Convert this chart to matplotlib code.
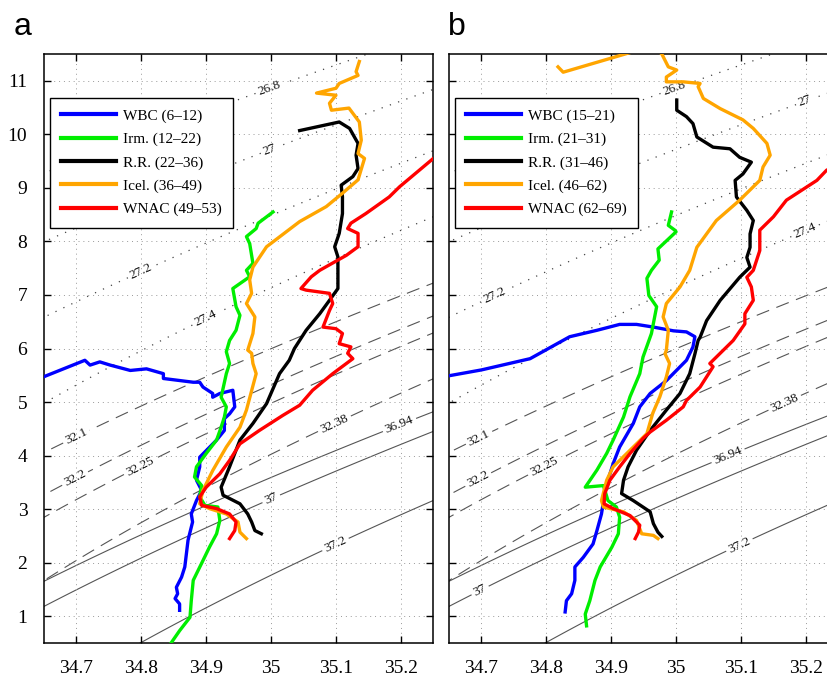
import numpy as np
import matplotlib
matplotlib.use('Agg')
import matplotlib.pyplot as plt
from matplotlib import ticker

# ── Data: T-S traces (salinity, potential temperature) ───────────
# panel a
a_wbc_s = [34.645, 34.713, 34.721, 34.736, 34.752, 34.783, 34.808, 34.834, 34.834, 34.88, 34.89, 34.895,
           34.91, 34.91, 34.921, 34.931, 34.941, 34.944, 34.936, 34.928, 34.928, 34.916, 34.89, 34.89,
           34.885, 34.893, 34.885, 34.877, 34.879, 34.872, 34.867, 34.862, 34.854, 34.856, 34.852,
           34.859, 34.859]
a_wbc_t = [5.45, 5.78, 5.69, 5.75, 5.69, 5.59, 5.62, 5.53, 5.44, 5.37, 5.37, 5.28, 5.16, 5.09, 5.16,
           5.19, 5.22, 4.91, 4.78, 4.69, 4.47, 4.29, 3.97, 3.79, 3.54, 3.35, 3.16, 2.91, 2.76, 2.42,
           1.92, 1.73, 1.54, 1.42, 1.33, 1.23, 1.11]
a_irm_s = [35.003, 34.98, 34.977, 34.962, 34.967, 34.972, 34.962, 34.967, 34.941, 34.946, 34.952,
           34.946, 34.936, 34.931, 34.936, 34.931, 34.923, 34.931, 34.928, 34.923, 34.916, 34.90,
           34.885, 34.882, 34.893, 34.89, 34.898, 34.918, 34.921, 34.916, 34.905, 34.895, 34.88,
           34.877, 34.875, 34.859, 34.843]
a_irm_t = [8.55, 8.34, 8.24, 8.09, 7.96, 7.59, 7.46, 7.34, 7.12, 6.78, 6.62, 6.34, 6.15, 5.94, 5.72,
           5.53, 5.09, 4.91, 4.72, 4.53, 4.29, 4.04, 3.79, 3.60, 3.44, 3.23, 3.07, 3.04, 2.79, 2.54,
           2.29, 2.04, 1.67, 1.29, 0.98, 0.73, 0.45]
a_rr_s = [35.044, 35.105, 35.121, 35.134, 35.131, 35.134, 35.126, 35.108, 35.11, 35.11, 35.105,
          35.098, 35.103, 35.103, 35.103, 35.09, 35.075, 35.054, 35.036, 35.028, 35.013, 34.993,
          34.972, 34.952, 34.936, 34.923, 34.926, 34.952, 34.964, 34.97, 34.975, 34.985]
a_rr_t = [10.07, 10.23, 10.11, 9.83, 9.61, 9.36, 9.21, 9.05, 8.83, 8.52, 8.15, 7.90, 7.71, 7.40, 7.12,
          6.90, 6.65, 6.34, 6.0, 5.78, 5.53, 4.97, 4.60, 4.29, 3.79, 3.41, 3.26, 3.10, 2.91, 2.76,
          2.60, 2.54]
a_icel_s = [35.136, 35.131, 35.134, 35.105, 35.10, 35.07, 35.10, 35.09, 35.093, 35.12, 35.136, 35.139,
            35.134, 35.144, 35.134, 35.11, 35.085, 35.044, 34.993, 34.972, 34.967, 34.970, 34.962,
            34.975, 34.972, 34.964, 34.970, 34.972, 34.977, 34.962, 34.952, 34.931, 34.91, 34.895,
            34.89, 34.905, 34.931, 34.949, 34.952, 34.962]
a_icel_t = [11.36, 11.17, 11.10, 10.95, 10.86, 10.77, 10.73, 10.58, 10.45, 10.49, 10.23, 9.89, 9.64,
            9.55, 9.15, 8.90, 8.65, 8.37, 7.90, 7.52, 7.28, 7.03, 6.84, 6.59, 6.28, 5.97, 5.91, 5.72,
            5.53, 4.85, 4.53, 4.16, 3.72, 3.35, 3.10, 3.01, 2.91, 2.76, 2.57, 2.45]
a_wnac_s = [35.255, 35.198, 35.182, 35.146, 35.123, 35.118, 35.134, 35.134, 35.116, 35.075, 35.062,
            35.046, 35.054, 35.09, 35.095, 35.09, 35.08, 35.10, 35.11, 35.105, 35.123, 35.118, 35.126,
            35.095, 35.064, 35.044, 35.018, 34.982, 34.952, 34.936, 34.921, 34.90, 34.89, 34.893,
            34.916, 34.936, 34.946, 34.944, 34.936]
a_wnac_t = [9.6, 9.02, 8.83, 8.52, 8.34, 8.24, 8.15, 7.90, 7.74, 7.46, 7.34, 7.12, 7.09, 7.03, 6.84,
            6.71, 6.40, 6.37, 6.28, 6.09, 6.03, 5.91, 5.81, 5.53, 5.22, 4.94, 4.75, 4.47, 4.22, 3.91,
            3.66, 3.41, 3.23, 3.07, 3.01, 2.91, 2.76, 2.60, 2.45]

# panel b
b_wbc_s = [34.645, 34.70, 34.775, 34.836, 34.878, 34.913, 34.939, 34.965, 34.996, 35.016, 35.029,
           35.026, 35.016, 34.985, 34.96, 34.944, 34.934, 34.913, 34.903, 34.895, 34.89, 34.885,
           34.878, 34.872, 34.857, 34.844, 34.844, 34.839, 34.831, 34.829]
b_wbc_t = [5.48, 5.6, 5.81, 6.22, 6.34, 6.45, 6.45, 6.40, 6.33, 6.31, 6.22, 6.03, 5.78, 5.40, 5.16,
           4.91, 4.60, 4.16, 3.85, 3.54, 3.29, 2.91, 2.60, 2.35, 2.10, 1.92, 1.67, 1.42, 1.29, 1.08]
b_irm_s = [34.993, 34.988, 34.998, 35.0, 34.972, 34.974, 34.962, 34.955, 34.958, 34.97, 34.962,
           34.949, 34.944, 34.929, 34.919, 34.903, 34.893, 34.878, 34.86, 34.888, 34.895, 34.908,
           34.913, 34.911, 34.901, 34.883, 34.875, 34.867, 34.86, 34.862]
b_irm_t = [8.55, 8.30, 8.21, 8.18, 7.86, 7.65, 7.46, 7.31, 6.99, 6.78, 6.28, 5.84, 5.53, 5.10, 4.72,
           4.29, 4.04, 3.73, 3.41, 3.44, 3.16, 3.04, 2.85, 2.54, 2.29, 1.92, 1.67, 1.29, 1.04, 0.82]
b_rr_s = [35.001, 35.001, 35.016, 35.026, 35.032, 35.057, 35.083, 35.098, 35.116, 35.103, 35.091,
          35.093, 35.109, 35.119, 35.114, 35.114, 35.109, 35.114, 35.098, 35.068, 35.047, 35.037,
          35.034, 35.029, 35.021, 35.006, 34.985, 34.96, 34.939, 34.926, 34.919, 34.916, 34.934,
          34.96, 34.965, 34.972, 34.978]
b_rr_t = [10.64, 10.45, 10.33, 10.20, 9.95, 9.76, 9.73, 9.57, 9.48, 9.26, 9.14, 8.83, 8.58, 8.39,
          8.14, 7.89, 7.70, 7.52, 7.33, 6.90, 6.52, 6.21, 6.15, 5.90, 5.53, 5.16, 4.85, 4.47, 4.10,
          3.79, 3.54, 3.29, 3.16, 2.95, 2.73, 2.57, 2.49]
b_icel_s = [34.818, 34.826, 34.93, 34.96, 34.978, 34.988, 35.001, 34.985, 34.985, 35.011, 35.037,
            35.034, 35.042, 35.068, 35.103, 35.119, 35.14, 35.145, 35.134, 35.129, 35.098, 35.062,
            35.047, 35.032, 35.021, 35.006, 34.985, 34.98, 34.988, 34.985, 34.983, 34.99, 34.985,
            34.975, 34.964, 34.955, 34.924, 34.903, 34.893, 34.885, 34.888, 34.919, 34.939, 34.947,
            34.965, 34.972]
b_icel_t = [11.26, 11.16, 11.53, 11.7, 11.5, 11.26, 11.20, 11.07, 10.98, 10.98, 10.95, 10.89, 10.67,
            10.48, 10.27, 10.11, 9.83, 9.61, 9.39, 9.14, 8.77, 8.39, 8.14, 7.89, 7.46, 7.15, 6.84,
            6.59, 6.34, 5.97, 5.90, 5.72, 5.47, 5.10, 4.79, 4.41, 4.04, 3.79, 3.54, 3.16, 3.04, 2.95,
            2.79, 2.54, 2.51, 2.45]
b_wnac_s = [35.26, 35.232, 35.217, 35.17, 35.15, 35.129, 35.129, 35.129, 35.119, 35.109, 35.116,
            35.119, 35.106, 35.106, 35.088, 35.057, 35.052, 35.057, 35.047, 35.037, 35.016, 35.011,
            34.985, 34.96, 34.949, 34.929, 34.913, 34.898, 34.89, 34.889, 34.903, 34.929, 34.944,
            34.942, 34.937]
b_wnac_t = [9.5, 9.33, 9.14, 8.77, 8.46, 8.21, 8.02, 7.83, 7.46, 7.33, 7.15, 6.90, 6.65, 6.46, 6.15,
            5.78, 5.72, 5.66, 5.47, 5.28, 5.03, 4.91, 4.66, 4.44, 4.32, 4.04, 3.79, 3.54, 3.29, 3.10,
            3.01, 2.88, 2.70, 2.57, 2.45]

names = ["WBC", "Irm.", "R.R.", "Icel.", "WNAC"]
ranges_a = ["(6\u201312)", "(12\u201322)", "(22\u201336)", "(36\u201349)", "(49\u201353)"]
ranges_b = ["(15\u201321)", "(21\u201331)", "(31\u201346)", "(46\u201362)", "(62\u201369)"]
colors = ["#0000ff", "#00ee00", "#000000", "#ffa500", "#ff0000"]

sig0_levels = [26.8, 27.0, 27.2, 27.4]
sig1_levels = [32.1, 32.2, 32.25, 32.38]
sig2_levels = [36.94, 37.0, 37.2]

# contour label spots (S, T)
lab_a = {0: [(34.998, 10.83), (34.998, 9.71), (34.80, 7.43), (34.90, 6.53)],
         1: [(34.70, 4.35), (34.698, 3.57), (34.798, 3.79), (35.098, 4.57)],
         2: [(35.198, 4.57), (35.0, 3.20), (35.10, 2.32)]}
lab_b = {0: [(34.998, 10.83), (35.199, 10.61), (34.721, 6.96), (35.199, 8.18)],
         1: [(34.698, 4.29), (34.693, 3.60), (34.795, 3.82), (35.168, 4.97)],
         2: [(35.08, 4.0), (34.698, 1.48), (35.098, 2.32)]}


# ── Seawater EOS-80 ──────────────────────────────────────────────
def dens0(S, T):
    rw = (999.842594 + 6.793952e-2*T - 9.095290e-3*T**2 + 1.001685e-4*T**3
          - 1.120083e-6*T**4 + 6.536332e-9*T**5)
    return (rw + S*(0.824493 - 4.0899e-3*T + 7.6438e-5*T**2 - 8.2467e-7*T**3 + 5.3875e-9*T**4)
            + S**1.5*(-5.72466e-3 + 1.0227e-4*T - 1.6546e-6*T**2) + 4.8314e-4*S**2)


def seck(S, T, p):
    kw = 19652.21 + 148.4206*T - 2.327105*T**2 + 1.360477e-2*T**3 - 5.155288e-5*T**4
    aw = 3.239908 + 1.43713e-3*T + 1.16092e-4*T**2 - 5.77905e-7*T**3
    bw = 8.50935e-5 - 6.12293e-6*T + 5.2787e-8*T**2
    k0 = (kw + S*(54.6746 - 0.603459*T + 1.09987e-2*T**2 - 6.1670e-5*T**3)
          + S**1.5*(7.944e-2 + 1.6483e-2*T - 5.3009e-4*T**2))
    a = aw + S*(2.2838e-3 - 1.0981e-5*T - 1.6078e-6*T**2) + 1.91075e-4*S**1.5
    b = bw + S*(-9.9348e-7 + 2.0816e-8*T + 9.1697e-10*T**2)
    return k0 + a*p + b*p**2


def dens(S, T, P):
    p = P / 10.0
    return dens0(S, T) / (1 - p / seck(S, T, p))


def adtg(S, T, P):
    ds = S - 35.0
    return (3.5803e-5 + (8.5258e-6 + (-6.836e-8 + 6.6228e-10*T)*T)*T
            + (1.8932e-6 - 4.2393e-8*T)*ds
            + ((1.8741e-8 + (-6.7795e-10 + (8.733e-12 - 5.4481e-14*T)*T)*T)
               + (-1.1351e-10 + 2.7759e-12*T)*ds)*P
            + (-4.6206e-13 + (1.8676e-14 - 2.1687e-16*T)*T)*P*P)


def ptmp(S, T, P, PR):
    r2 = np.sqrt(2)
    dp = PR - P
    dth = dp*adtg(S, T, P)
    th = T + 0.5*dth
    q = dth
    dth = dp*adtg(S, th, P + 0.5*dp)
    th = th + (1 - 1/r2)*(dth - q)
    q = (2 - r2)*dth + (-2 + 3/r2)*q
    dth = dp*adtg(S, th, P + 0.5*dp)
    th = th + (1 + 1/r2)*(dth - q)
    q = (2 + r2)*dth + (-2 - 3/r2)*q
    dth = dp*adtg(S, th, P + dp)
    return th + (dth - 2*q)/6


def sigma(S, th, pr):
    return dens(S, ptmp(S, th, 0.0, pr), pr) - 1000.0


SS, TT = np.meshgrid(np.linspace(34.55, 35.35, 240), np.linspace(-0.5, 12.5, 260))
SIG0 = sigma(SS, TT, 0.0)
SIG1 = sigma(SS, TT, 1000.0)
SIG2 = sigma(SS, TT, 2000.0)

plt.rcParams['font.family'] = ['Liberation Serif', 'DejaVu Serif']

fig = plt.figure(figsize=(8.27, 6.77), dpi=100, facecolor="white")
W = 389.3 / 827
H = 589 / 677
ax_a = fig.add_axes([44 / 827, 34 / 677, W, H])
ax_b = fig.add_axes([449 / 827, 34 / 677, W, H])

panels = [
    (ax_a, [(a_wbc_s, a_wbc_t), (a_irm_s, a_irm_t), (a_rr_s, a_rr_t), (a_icel_s, a_icel_t),
            (a_wnac_s, a_wnac_t)], ranges_a, lab_a),
    (ax_b, [(b_wbc_s, b_wbc_t), (b_irm_s, b_irm_t), (b_rr_s, b_rr_t), (b_icel_s, b_icel_t),
            (b_wnac_s, b_wnac_t)], ranges_b, lab_b),
]


def fmt(v):
    return f"{round(v, 2):g}"


for ax, series, rng, labs in panels:
    ax.set_xlim(34.65, 35.25)
    ax.set_ylim(0.5, 11.5)

    c0 = ax.contour(SS, TT, SIG0, levels=sig0_levels, colors="#444444",
                    linewidths=0.9, linestyles=[(0, (1, 6))], zorder=1)
    c1 = ax.contour(SS, TT, SIG1, levels=sig1_levels, colors="#555555",
                    linewidths=0.8, linestyles=[(0, (12, 7))], zorder=1)
    c2 = ax.contour(SS, TT, SIG2, levels=sig2_levels, colors="#555555",
                    linewidths=0.8, linestyles="solid", zorder=1)
    for k, cs in enumerate([c0, c1, c2]):
        txts = ax.clabel(cs, inline=True, fontsize=9.5, fmt=fmt, manual=labs[k], inline_spacing=3)
        for t in txts:
            t.set_color("#111111")

    for (s, t), nm, r, c in zip(series, names, rng, colors):
        ax.plot(s, t, color=c, lw=2.4, label=f"{nm} {r}", zorder=3, solid_joinstyle="round")

    ax.set_xticks([34.7, 34.8, 34.9, 35.0, 35.1, 35.2])
    ax.set_yticks(range(1, 12))
    ax.xaxis.set_major_formatter(ticker.FuncFormatter(lambda v, _: fmt(v)))
    ax.grid(True, color="#999999", lw=0.7, ls=(0, (1, 4)))
    ax.tick_params(direction="in", top=True, right=True, length=5, width=1,
                   labelsize=14, pad=12)
    for sp in ax.spines.values():
        sp.set_linewidth(1.1)

    leg = ax.legend(loc="upper left", bbox_to_anchor=(0.0154, 0.926), borderaxespad=0,
                    fontsize=11, handlelength=3.6, handletextpad=0.4, labelspacing=0.62,
                    borderpad=0.75, fancybox=False, framealpha=1, edgecolor="black")
    leg.get_frame().set_linewidth(1.0)
    for ln in leg.get_lines():
        ln.set_linewidth(3)

ax_b.set_yticklabels([])

fig.text(14 / 827, 1 - 35 / 677, "a", fontsize=23, family="Liberation Sans", va="baseline")
fig.text(448 / 827, 1 - 35 / 677, "b", fontsize=23, family="Liberation Sans", va="baseline")

fig.savefig("out.png", dpi=100, facecolor="white")
